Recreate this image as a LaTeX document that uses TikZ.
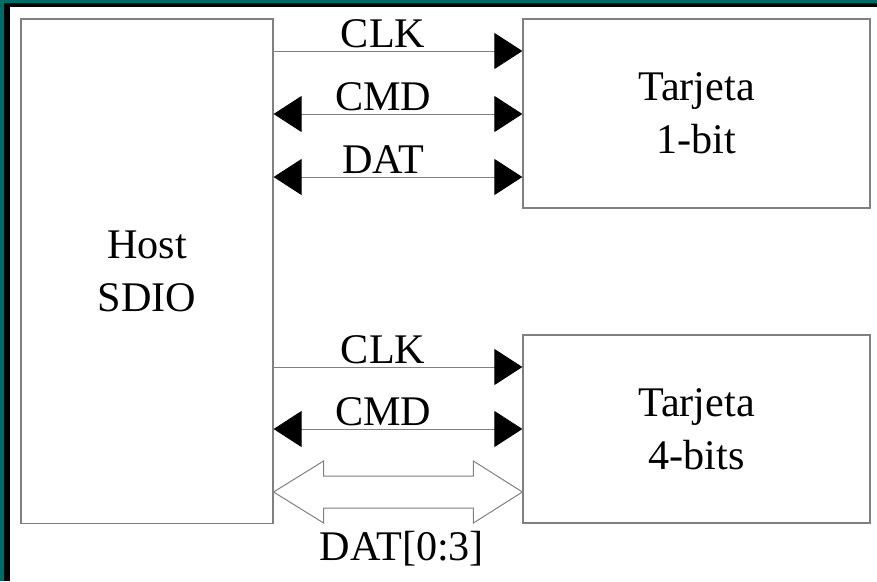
\documentclass[tikz,border=0pt]{standalone}
\usepackage{fontspec}
\setmainfont{Liberation Serif}
\usetikzlibrary{arrows.meta,calc}
\definecolor{frameteal}{RGB}{0,107,102}
\definecolor{linegray}{RGB}{128,128,128}

\begin{document}
\begin{tikzpicture}[x=0.025cm, y=-0.025cm,
    block/.style={rectangle, draw=linegray, line width=0.8pt, align=center, inner sep=0pt, font=\fontsize{30}{37.7}\selectfont},
    sig/.style={draw=linegray, line width=0.7pt, >={Triangle[length=0.7cm, width=0.9cm, color=black, fill=black]}},
    lbl/.style={anchor=base, yshift=0.1cm, inner sep=0pt, pos=0.44, font=\fontsize{30}{37.7}\selectfont},
    fat/.style={draw=linegray, line width=0.7pt, fill=white, line join=miter}
]
\useasboundingbox (0,0) rectangle (877,581);

% Frame
\fill[frameteal] (0,0) rectangle (877,3);
\fill[frameteal] (0,0) rectangle (4,581);
\fill[black] (4,3) rectangle (877,7);
\fill[black] (4,3) rectangle (9.5,581);

% Host
\node[block, minimum width=6.3cm, minimum height=12.6cm] (host) at (147,271) {Host\\SDIO};

% Cards
\node[block, minimum width=8.675cm, minimum height=4.725cm] (card1) at (696.5,113.5) {Tarjeta\\1-bit};
\node[block, minimum width=8.675cm, minimum height=4.7cm] (card4) at (696.5,429) {Tarjeta\\4-bits};

% 1-bit bus
\draw[sig, ->] (host.east |- 0,51) -- node[lbl] {CLK} (card1.west |- 0,51);
\draw[sig, <->] (host.east |- 0,114) -- node[lbl] {CMD} (card1.west |- 0,114);
\draw[sig, <->] (host.east |- 0,177) -- node[lbl] {DAT} (card1.west |- 0,177);

% 4-bit bus
\draw[sig, ->] (host.east |- 0,367) -- node[lbl] {CLK} (card4.west |- 0,367);
\draw[sig, <->] (host.east |- 0,429) -- node[lbl] {CMD} (card4.west |- 0,429);

\coordinate (datl) at (host.east |- 0,492);
\coordinate (datr) at (card4.west |- 0,492);
\draw[fat] (datl) -- ++(50,-31) -- ++(0,15) -- ($(datr)+(-49,-16)$) -- ++(0,-15) -- (datr)
    -- ++(-49,31) -- ++(0,-15) -- ($(datl)+(50,16)$) -- ++(0,15) -- cycle;
\node[anchor=base, inner sep=0pt, font=\fontsize{30}{37.7}\selectfont] (datbus) at ($(datl)!0.516!(datr)+(0,68)$) {DAT[0:3]};

\end{tikzpicture}
\end{document}
